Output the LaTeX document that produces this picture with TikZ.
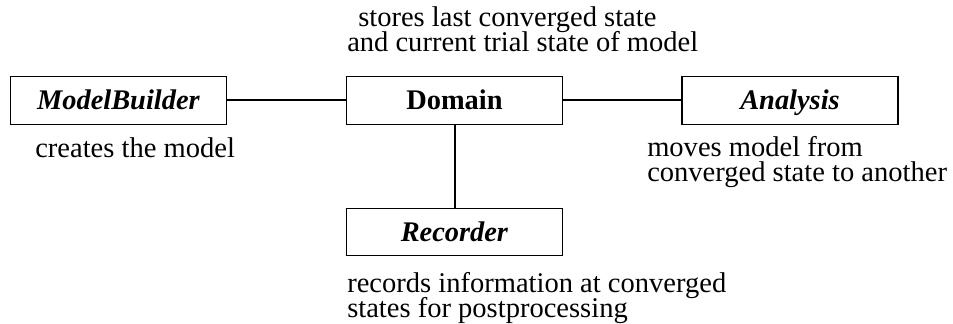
\documentclass[tikz,border=0pt]{standalone}
\usepackage{fontspec}
\setmainfont{Liberation Serif}
% tight leading: never fall back to \lineskip between lines
\newcommand\tightlead{\lineskiplimit=-30pt\relax\lineskip=0pt\relax}
\begin{document}
% 1 unit = 1 px at 0.75pt per px
\begin{tikzpicture}[x=0.75pt, y=-0.75pt,
  classbox/.style={draw, line width=0.8pt, minimum width=162pt, minimum height=35.5pt,
    inner sep=0pt, text height=14.25pt, text depth=0pt, font=\fontsize{21.3}{25}\selectfont},
  link/.style={line width=1.5pt},
  % multi-line notes: anchored at the baseline of their last line
  note/.style={anchor=base west, inner sep=0pt, align=left,
    font=\fontsize{21.4}{18.75}\selectfont\tightlead}]
  \useasboundingbox (0,0) rectangle (953,324);

  % classes
  \node[classbox] (mb)  at (118.5,100.5) {\textbf{\textit{ModelBuilder}}};
  \node[classbox] (dom) at (454.5,100.5) {\textbf{Domain}};
  \node[classbox] (an)  at (790,100.5)   {\textbf{\textit{Analysis}}};
  \node[classbox] (rec) at (454.5,232)   {\textbf{\textit{Recorder}}};

  % associations
  \draw[link] (mb.east) -- (dom.west);
  \draw[link] (dom.east) -- (an.west);
  \draw[link] (dom.south) -- (rec.north);

  % responsibilities
  \node[note] (domnote) at (347,51.7)
    {\hspace*{8.25pt}stores last converged state\\and current trial state of model};
  \node[note] (mbnote)  at (35,157.5) {creates the model};
  \node[note] (annote)  at (647,181)
    {moves model from\\converged state to another};
  \node[note] (recnote) at (347,317)
    {records information at converged\\states for postprocessing};
\end{tikzpicture}
\end{document}
